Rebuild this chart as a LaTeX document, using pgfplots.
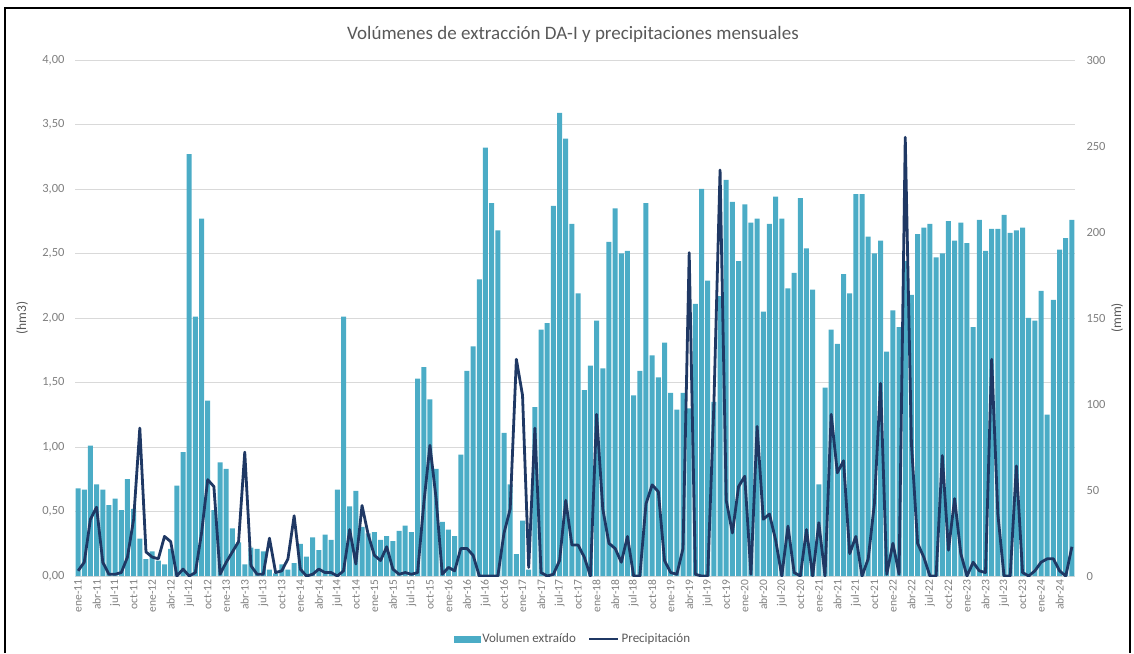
\documentclass[border=0pt]{standalone}
\usepackage{fontspec}
\setmainfont{Carlito}
\usepackage{pgfplots}
\usepackage{pgfplotstable}
\pgfplotsset{compat=1.18}
\definecolor{barc}{HTML}{4BACC6}
\definecolor{linec}{HTML}{1F3864}
\definecolor{txt}{HTML}{595959}
\definecolor{ticktxt}{HTML}{7F7F7F}

% m = mes (0 = ene-11), v = volumen (hm3), p = precipitacion (mm)
\pgfplotstableread{
m v p
0 0.68 3
1 0.67 8
2 1.01 33
3 0.71 40
4 0.67 8
5 0.55 1
6 0.60 1
7 0.51 2
8 0.75 11
9 0.52 33
10 0.29 86
11 0.13 14
12 0.19 11
13 0.12 10
14 0.09 23
15 0.21 20
16 0.70 0
17 0.96 4
18 3.27 0
19 2.01 2
20 2.77 25
21 1.36 56
22 0.51 52
23 0.88 1
24 0.83 8
25 0.37 14
26 0.26 20
27 0.09 72
28 0.22 6
29 0.21 1
30 0.19 1
31 0.05 22
32 0.02 2
33 0.09 3
34 0.05 10
35 0.10 35
36 0.25 4
37 0.15 0
38 0.30 1
39 0.20 4
40 0.32 2
41 0.28 2
42 0.67 0
43 2.01 3
44 0.54 27
45 0.66 7
46 0.38 41
47 0.33 24
48 0.34 12
49 0.28 9
50 0.31 17
51 0.27 4
52 0.35 1
53 0.39 2
54 0.34 1
55 1.53 2
56 1.62 42
57 1.37 76
58 0.83 45
59 0.42 1
60 0.36 5
61 0.31 3
62 0.94 16
63 1.59 16
64 1.78 12
65 2.30 0
66 3.32 0
67 2.89 0
68 2.68 0
69 1.11 25
70 0.71 39
71 0.17 126
72 0.43 105
73 0.05 5
74 1.31 86
75 1.91 2
76 1.96 0
77 2.87 1
78 3.59 9
79 3.39 44
80 2.73 18
81 2.19 18
82 1.44 11
83 1.63 0
84 1.98 94
85 1.61 39
86 2.59 19
87 2.85 16
88 2.50 8
89 2.52 23
90 1.40 0
91 1.59 0
92 2.89 42
93 1.71 53
94 1.54 49
95 1.81 9
96 1.42 2
97 1.29 1
98 1.42 16
99 1.30 188
100 2.11 1
101 3.00 0
102 2.29 0
103 1.35 100
104 2.17 236
105 3.07 44
106 2.90 25
107 2.44 52
108 2.88 58
109 2.74 1
110 2.77 87
111 2.05 33
112 2.73 36
113 2.94 21
114 2.77 0
115 2.23 29
116 2.35 2
117 2.93 0
118 2.54 27
119 2.22 0
120 0.71 31
121 1.46 0
122 1.91 94
123 1.80 60
124 2.34 67
125 2.19 13
126 2.96 23
127 2.96 0
128 2.63 10
129 2.50 42
130 2.60 112
131 1.74 1
132 2.06 19
133 1.93 1
134 2.44 255
135 2.18 77
136 2.65 19
137 2.70 11
138 2.73 0
139 2.47 0
140 2.50 70
141 2.75 15
142 2.60 45
143 2.74 13
144 2.58 0
145 1.93 8
146 2.76 3
147 2.52 2
148 2.69 126
149 2.69 36
150 2.80 0
151 2.66 0
152 2.68 64
153 2.70 2
154 2.00 0
155 1.98 3
156 2.21 8
157 1.25 10
158 2.14 10
159 2.53 3
160 2.62 0
161 2.76 17
}\datos

\begin{document}
\begin{tikzpicture}
\useasboundingbox (0pt,0pt) rectangle (1134pt,653pt);
\draw[black, line width=1.6pt] (5pt,0pt) -- (5pt,645pt) -- (1130pt,645pt) -- (1130pt,0pt);

\pgfplotsset{
  base/.style={
    scale only axis, width=1000pt, height=516pt,
    at={(75pt,77pt)}, anchor=south west,
    xmin=-0.5, xmax=161.5,
    axis line style={draw=none},
    major tick length=0pt,
    tick label style={font=\fontsize{12.5}{14}\selectfont, text=ticktxt},
    /pgf/number format/assume math mode=true,
  }
}

\begin{axis}[base,
  ymin=0, ymax=4, ytick={0,0.5,...,4},
  ymajorgrids, grid style={black!15, line width=0.9pt},
  yticklabel style={xshift=-7pt, /pgf/number format/.cd, fixed, fixed zerofill, precision=2, use comma},
  xtick={0,3,...,159},
  xticklabels={ene-11,abr-11,jul-11,oct-11,ene-12,abr-12,jul-12,oct-12,ene-13,abr-13,jul-13,oct-13,ene-14,abr-14,jul-14,oct-14,ene-15,abr-15,jul-15,oct-15,ene-16,abr-16,jul-16,oct-16,ene-17,abr-17,jul-17,oct-17,ene-18,abr-18,jul-18,oct-18,ene-19,abr-19,jul-19,oct-19,ene-20,abr-20,jul-20,oct-20,ene-21,abr-21,jul-21,oct-21,ene-22,abr-22,jul-22,oct-22,ene-23,abr-23,jul-23,oct-23,ene-24,abr-24},
  xticklabel style={rotate=90, anchor=east, font=\fontsize{11.5}{13}\selectfont, text=ticktxt},
  ylabel={(hm3)},
  every axis y label/.style={at={(axis description cs:-0.053,0.5)}, anchor=center, rotate=90, font=\fontsize{13.5}{15}\selectfont, text=txt},
  title={Volúmenes de extracción DA-I y precipitaciones mensuales},
  title style={at={(axis description cs:0.498,1)}, anchor=center, yshift=20pt, font=\fontsize{19}{22}\selectfont, text=txt},
]
\addplot[ybar, bar width=5pt, fill=barc, draw=none] table[x=m, y=v] {\datos};
\end{axis}

\begin{axis}[base,
  ymin=0, ymax=300, ytick={0,50,...,300},
  axis y line*=right, axis x line=none,
  yticklabel style={anchor=west, xshift=8pt},
  ylabel={(mm)},
  every axis y label/.style={at={(axis description cs:1.042,0.5)}, anchor=center, rotate=90, font=\fontsize{13.5}{15}\selectfont, text=txt},
  legend style={at={(axis description cs:0.498,-0.122)}, anchor=center, draw=none, fill=none,
    legend columns=2, font=\fontsize{13}{15}\selectfont, text=txt,
    /tikz/every even column/.append style={column sep=10pt}},
  legend cell align=left,
]
\addlegendimage{legend image code/.code={\fill[barc] (0pt,-3pt) rectangle (26pt,3pt);}}
\addlegendentry{Volumen extraído}
\addplot[draw=linec, line width=2.8pt, line join=round, no markers,
  legend image code/.code={\draw[linec, line width=2.8pt] (0pt,0pt) -- (29pt,0pt);}]
  table[x=m, y=p] {\datos};
\addlegendentry{Precipitación}
\end{axis}
\end{tikzpicture}
\end{document}
